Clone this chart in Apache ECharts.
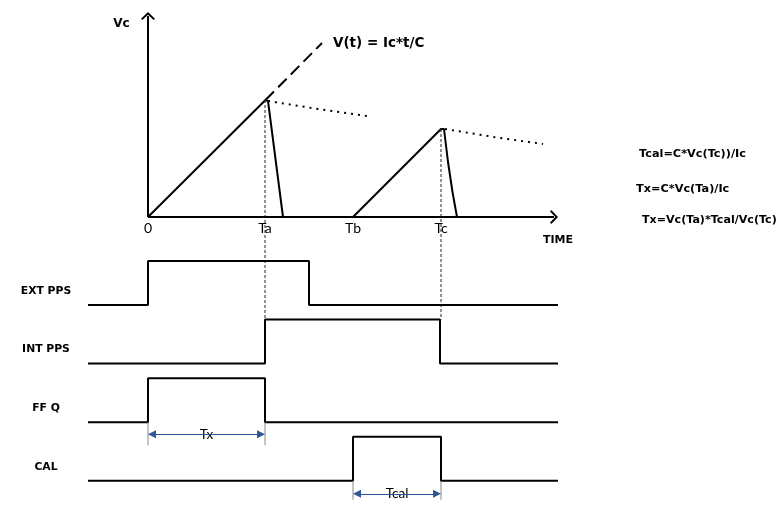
<!DOCTYPE html>
<html>
<head>
<meta charset="utf-8">
<script src="https://cdn.jsdelivr.net/npm/echarts@6/dist/echarts.min.js"></script>
<style>
  html, body { margin: 0; padding: 0; background: #fff; }
  #main { width: 782px; height: 508px; }
</style>
</head>
<body>
<div id="main"></div>
<script>
// time axis: 0 = start of ramp, Ta/Tb/Tc marks
const tickNames = ['0', 'Ta', 'Tb', 'Tc'];
const tickTimes = [0, 117, 205, 293];

// capacitor voltage Vc(t)
const rampA = [[0, 0], [117.5, 117], [120, 116], [135, 0]];
const rampB = [[205, 0], [293, 88], [296, 88], [300, 55], [304.5, 25], [309, 0]];
const idealLine = [[117.5, 117], [174, 174]];   // V(t) = Ic*t/C
const leakA = [[120, 116], [170, 108], [219, 101]];
const leakB = [[297, 88], [346, 80], [395, 73]];

// digital signals: [rise, fall]
const signalNames = ['EXT PPS', 'INT PPS', 'FF Q', 'CAL'];
const signalEdges = [[0, 161], [117, 292], [0, 117], [205, 293]];

const formulas = ['Tcal=C*Vc(Tc))/Ic', 'Tx=C*Vc(Ta)/Ic', 'Tx=Vc(Ta)*Tcal/Vc(Tc)'];

const tMin = -60, tMax = 410;
const FONT = 'DejaVu Sans';
const FONT_REG = 'Lato';

// lane levels for the timing traces
const laneLow = signalNames.map((n, i) => -88 - 58.6 * i);
const laneHigh = laneLow.map(v => v + 44);

const chevron = 'path://M7,0 L14,7 L12.6,8.4 L7,2.8 L1.4,8.4 L0,7 Z';

function lineSeries(data, style) {
  return Object.assign({
    type: 'line',
    data: data,
    symbol: 'none',
    silent: true,
    lineStyle: { color: '#000', width: 2 }
  }, style || {});
}

const series = [];

// axes of the Vc plot
series.push(lineSeries([], {
  markLine: {
    silent: true,
    symbol: ['none', chevron],
    symbolSize: [14, 8],
    label: { show: false },
    lineStyle: { color: '#000', width: 2, type: 'solid' },
    data: [
      [{ coord: [0, 0] }, { coord: [406, 0] }],
      [{ coord: [0, 0] }, { coord: [0, 201] }]
    ]
  }
}));

series.push(lineSeries(rampA));
series.push(lineSeries(rampB));
series.push(lineSeries(idealLine, {
  lineStyle: { color: '#000', width: 2, type: [12, 6] },
  endLabel: {
    show: true,
    formatter: 'V(t) = Ic*t/C',
    distance: 11,
    color: '#000',
    fontFamily: FONT,
    fontWeight: 'bold',
    fontSize: 13.5
  }
}));
series.push(lineSeries(leakA, { lineStyle: { color: '#000', width: 2, type: [2, 5] } }));
series.push(lineSeries(leakB, { lineStyle: { color: '#000', width: 2, type: [2, 5] } }));

// dashed guides from Vc peaks down to INT PPS
[[tickTimes[1], rampA[1][1]], [tickTimes[3], rampB[1][1]]].forEach(p => {
  series.push(lineSeries([p, [p[0], laneHigh[1]]], {
    lineStyle: { color: '#222', width: 1, type: [3, 2] }
  }));
});

// digital traces
signalEdges.forEach((e, i) => {
  const lo = laneLow[i], hi = laneHigh[i];
  series.push(lineSeries([[tMin, lo], [e[0], lo], [e[0], hi], [e[1], hi], [e[1], lo], [tMax, lo]]));
});

// tick labels under the time axis
series.push({
  type: 'scatter',
  silent: true,
  symbol: 'circle',
  symbolSize: 2,
  itemStyle: { opacity: 0 },
  data: tickTimes.map((t, i) => ({ value: [t, 0], name: tickNames[i] })),
  label: {
    show: true,
    position: 'bottom',
    distance: 3,
    formatter: p => p.name,
    color: '#000',
    opacity: 1,
    fontFamily: FONT_REG,
    fontSize: 14
  }
});

// dimension arrows Tx and Tcal
const dims = [
  { name: 'Tx', lane: 2, edges: signalEdges[2], gap: 12, ext: 23 },
  { name: 'Tcal', lane: 3, edges: signalEdges[3], gap: 13, ext: 19 }
];
dims.forEach(d => {
  const y = laneLow[d.lane] - d.gap;
  d.edges.forEach(x => {
    series.push(lineSeries([[x, laneLow[d.lane]], [x, laneLow[d.lane] - d.ext]], {
      lineStyle: { color: '#888', width: 1 }
    }));
  });
  series.push(lineSeries([], {
    markLine: {
      silent: true,
      symbol: ['triangle', 'triangle'],
      symbolSize: [8, 8],
      label: { show: false },
      lineStyle: { color: '#2f5596', width: 1, type: 'solid' },
      data: [[{ coord: [d.edges[0] + 4, y] }, { coord: [d.edges[1] - 4, y] }]]
    }
  }));
  series.push({
    type: 'scatter',
    silent: true,
    symbolSize: 2,
    itemStyle: { opacity: 0 },
    data: [{ value: [(d.edges[0] + d.edges[1]) / 2, y], name: d.name }],
    label: {
      show: true,
      position: 'inside',
      formatter: p => p.name,
      color: '#000',
      opacity: 1,
      backgroundColor: '#fff',
      padding: [0, 1],
      fontFamily: FONT_REG,
      fontSize: 13.5
    }
  });
});

const textStyle = (text, x, y, align, size) => ({
  type: 'text',
  x: x,
  y: y,
  silent: true,
  style: {
    text: text,
    fill: '#000',
    font: 'bold ' + size + 'px "' + FONT + '"',
    align: align,
    verticalAlign: 'middle'
  }
});

const graphic = [
  textStyle('Vc', 121.5, 24, 'center', 12),
  textStyle('TIME', 543, 240, 'left', 11),
  textStyle(formulas[0], 639, 154, 'left', 11.3),
  textStyle(formulas[1], 636, 189, 'left', 11.3),
  textStyle(formulas[2], 642, 220, 'left', 11.1)
];
signalNames.forEach((n, i) => {
  graphic.push(textStyle(n, 46, 217 - laneLow[i] - 14, 'center', 10.8));
});

const chart = echarts.init(document.getElementById('main'), null, { renderer: 'canvas' });
chart.setOption({
  animation: false,
  backgroundColor: '#fff',
  grid: { left: 88, width: 470, top: 0, height: 508 },
  xAxis: { type: 'value', min: tMin, max: tMax, show: false },
  yAxis: { type: 'value', min: -291, max: 217, show: false },
  graphic: graphic,
  series: series
});
</script>
</body>
</html>
